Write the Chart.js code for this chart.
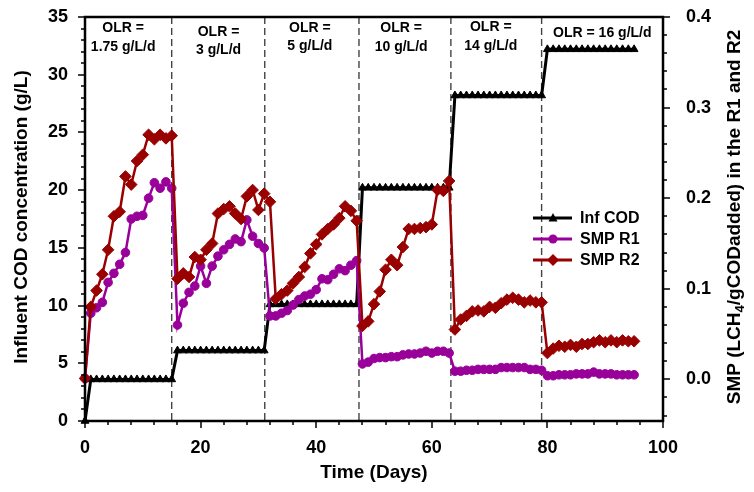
<!DOCTYPE html>
<html>
<head>
<meta charset="utf-8">
<title>Influent COD and SMP</title>
<script src="https://cdn.jsdelivr.net/npm/chart.js@4.4.1/dist/chart.umd.min.js"></script>
<style>
  html, body { margin: 0; padding: 0; background: #fff; }
  #wrap { width: 754px; height: 492px; }
</style>
</head>
<body>
<div id="wrap"><canvas id="chart" width="754" height="492"></canvas></div>
<script>
// sampling days (one sample a day)
const days = [
  0, 1, 2, 3, 4, 5, 6, 7, 8, 9, 10, 11, 12, 13, 14, 15,
  16, 17, 18, 19, 20, 21, 22, 23, 24, 25, 26, 27, 28, 29, 30, 31,
  32, 33, 34, 35, 36, 37, 38, 39, 40, 41, 42, 43, 44, 45, 46, 47,
  48, 49, 50, 51, 52, 53, 54, 55, 56, 57, 58, 59, 60, 61, 62, 63,
  64, 65, 66, 67, 68, 69, 70, 71, 72, 73, 74, 75, 76, 77, 78, 79,
  80, 81, 82, 83, 84, 85, 86, 87, 88, 89, 90, 91, 92, 93, 94, 95
]

// influent COD (g/L), left axis
const infCod = [
  0, 3.6, 3.6, 3.6, 3.6, 3.6, 3.6, 3.6, 3.6, 3.6, 3.6, 3.6, 3.6, 3.6, 3.6, 3.6,
  6.1, 6.1, 6.1, 6.1, 6.1, 6.1, 6.1, 6.1, 6.1, 6.1, 6.1, 6.1, 6.1, 6.1, 6.1, 6.1,
  10.1, 10.1, 10.1, 10.1, 10.1, 10.1, 10.1, 10.1, 10.1, 10.1, 10.1, 10.1, 10.1, 10.1, 10.1, 10.1,
  20.2, 20.2, 20.2, 20.2, 20.2, 20.2, 20.2, 20.2, 20.2, 20.2, 20.2, 20.2, 20.2, 20.2, 20.2, 20.2,
  28.2, 28.2, 28.2, 28.2, 28.2, 28.2, 28.2, 28.2, 28.2, 28.2, 28.2, 28.2, 28.2, 28.2, 28.2, 28.2,
  32.2, 32.2, 32.2, 32.2, 32.2, 32.2, 32.2, 32.2, 32.2, 32.2, 32.2, 32.2, 32.2, 32.2, 32.2, 32.2
]

// SMP (LCH4/gCODadded), right axis
const smpR1 = [
  0.001, 0.073, 0.079, 0.085, 0.107, 0.117, 0.127, 0.140, 0.177, 0.180, 0.181, 0.200, 0.217, 0.211, 0.218, 0.211,
  0.060, 0.084, 0.096, 0.103, 0.125, 0.106, 0.125, 0.136, 0.143, 0.149, 0.155, 0.152, 0.176, 0.158, 0.150, 0.145,
  0.070, 0.070, 0.073, 0.076, 0.082, 0.088, 0.092, 0.094, 0.099, 0.111, 0.110, 0.116, 0.122, 0.120, 0.126, 0.131,
  0.017, 0.019, 0.023, 0.024, 0.024, 0.025, 0.025, 0.027, 0.028, 0.028, 0.029, 0.031, 0.029, 0.031, 0.031, 0.029,
  0.009, 0.009, 0.010, 0.010, 0.011, 0.011, 0.011, 0.011, 0.013, 0.013, 0.013, 0.013, 0.013, 0.011, 0.011, 0.010,
  0.004, 0.004, 0.005, 0.005, 0.005, 0.006, 0.006, 0.006, 0.008, 0.006, 0.006, 0.006, 0.005, 0.005, 0.005, 0.005
]

const smpR2 = [
  0.001, 0.080, 0.098, 0.116, 0.143, 0.180, 0.185, 0.224, 0.215, 0.241, 0.248, 0.270, 0.265, 0.270, 0.266, 0.269,
  0.111, 0.117, 0.113, 0.135, 0.132, 0.143, 0.150, 0.183, 0.188, 0.191, 0.183, 0.177, 0.202, 0.209, 0.187, 0.205,
  0.196, 0.089, 0.094, 0.098, 0.106, 0.113, 0.124, 0.139, 0.149, 0.160, 0.166, 0.171, 0.178, 0.191, 0.186, 0.175,
  0.059, 0.064, 0.083, 0.097, 0.121, 0.132, 0.126, 0.146, 0.166, 0.166, 0.167, 0.168, 0.171, 0.209, 0.208, 0.219,
  0.055, 0.066, 0.070, 0.075, 0.076, 0.075, 0.080, 0.079, 0.084, 0.088, 0.090, 0.088, 0.085, 0.087, 0.085, 0.085,
  0.029, 0.034, 0.037, 0.036, 0.038, 0.036, 0.039, 0.039, 0.041, 0.043, 0.041, 0.043, 0.041, 0.043, 0.042, 0.042
]

// phase boundaries (days) and OLR captions
const olrBounds = [15, 31.1, 47.4, 63.3, 79]
const olrText = [
  ['OLR =', '1.75 g/L/d'],
  ['OLR =', '3 g/L/d'],
  ['OLR =', '5 g/L/d'],
  ['OLR =', '10 g/L/d'],
  ['OLR =', '14 g/L/d'],
  ['OLR = 16 g/L/d']
]
const rightTicks = [0, 0.1, 0.2, 0.3, 0.4]

// caption anchors: [day, left-axis value of first line, of second line]
const olrAt = [[6.6, 34.0, 32.4], [23.1, 33.7, 32.1], [38.9, 34.0, 32.5], [54.7, 34.0, 32.4], [70.2, 34.1, 32.5], [89.5, 33.6]]

const FONT = '"Liberation Sans", Arial, Helvetica, sans-serif'
const ink = '#000000'
const purple = '#990099'
const maroon = '#990000'

const pts = (vals) => days.map((d, i) => ({ x: d, y: vals[i] }))

function marker(ctx, style, x, y, r, color) {
  ctx.fillStyle = color
  ctx.beginPath()
  if (style === 'triangle') {
    ctx.moveTo(x, y - r * 1.1)
    ctx.lineTo(x + r, y + r * 0.75)
    ctx.lineTo(x - r, y + r * 0.75)
  } else if (style === 'rectRot') {
    ctx.moveTo(x, y - r)
    ctx.lineTo(x + r, y)
    ctx.lineTo(x, y + r)
    ctx.lineTo(x - r, y)
  } else {
    ctx.arc(x, y, r, 0, Math.PI * 2)
  }
  ctx.closePath()
  ctx.fill()
}

const decor = {
  id: 'decor',
  beforeDatasetsDraw(chart) {
    const { ctx, chartArea: a, scales } = chart
    ctx.save()
    ctx.strokeStyle = '#444'
    ctx.lineWidth = 1.4
    ctx.setLineDash([7, 4])
    olrBounds.forEach((d) => {
      const x = scales.x.getPixelForValue(d)
      ctx.beginPath()
      ctx.moveTo(x, a.top)
      ctx.lineTo(x, a.bottom)
      ctx.stroke()
    })
    ctx.restore()
  },
  afterDraw(chart) {
    const { ctx, chartArea: a, scales } = chart
    ctx.save()

    // frame
    ctx.strokeStyle = ink
    ctx.lineWidth = 2.5
    ctx.strokeRect(a.left, a.top, a.right - a.left, a.bottom - a.top)

    // tick marks
    ctx.lineWidth = 1.5
    ctx.beginPath()
    for (let v = 0; v <= 35; v++) {
      const y = Math.round(scales.y.getPixelForValue(v))
      const len = v % 5 === 0 ? 7 : 4
      ctx.moveTo(a.left, y)
      ctx.lineTo(a.left - len, y)
    }
    for (let k = -2; k <= 20; k++) {
      const y = Math.round(scales.y2.getPixelForValue(k * 0.02))
      const len = k % 5 === 0 ? 7 : 4
      ctx.moveTo(a.right, y)
      ctx.lineTo(a.right + len, y)
    }
    for (let k = 0; k <= 25; k++) {
      const x = Math.round(scales.x.getPixelForValue(k * 4))
      const len = k % 5 === 0 ? 7 : 4
      ctx.moveTo(x, a.bottom)
      ctx.lineTo(x, a.bottom + len)
    }
    ctx.stroke()

    // OLR captions
    ctx.fillStyle = ink
    ctx.textAlign = 'center'
    ctx.textBaseline = 'middle'
    ctx.font = `bold 14px ${FONT}`
    olrText.forEach((lines, i) => {
      const x = scales.x.getPixelForValue(olrAt[i][0])
      lines.forEach((t, j) => ctx.fillText(t, x, scales.y.getPixelForValue(olrAt[i][j + 1])))
    })

    // axis titles
    ctx.font = `bold 19px ${FONT}`
    ctx.fillText('Time (Days)', (a.left + a.right) / 2, 473)

    ctx.save()
    ctx.translate(22, 217)
    ctx.rotate(-Math.PI / 2)
    ctx.fillText('Influent COD concentration (g/L)', 0, 0)
    ctx.restore()

    ctx.save()
    ctx.translate(735, 217)
    ctx.rotate(-Math.PI / 2)
    const parts = [['SMP (LCH', 19, 0], ['4', 13, 5], ['/gCODadded) in the R1 and R2', 19, 0]]
    const widths = parts.map(([t, s]) => { ctx.font = `bold ${s}px ${FONT}`; return ctx.measureText(t).width })
    let x = -widths.reduce((p, w) => p + w, 0) / 2
    ctx.textAlign = 'left'
    parts.forEach(([t, s, dy], i) => {
      ctx.font = `bold ${s}px ${FONT}`
      ctx.fillText(t, x, dy)
      x += widths[i]
    })
    ctx.restore()

    // legend
    const rows = [['Inf COD', ink, 'triangle', 4.5], ['SMP R1', purple, 'circle', 4.5], ['SMP R2', maroon, 'rectRot', 6]]
    ctx.font = `bold 16px ${FONT}`
    ctx.textAlign = 'left'
    rows.forEach(([label, color, style, r], i) => {
      const y = 218 + i * 21
      ctx.strokeStyle = color
      ctx.lineWidth = 3
      ctx.beginPath()
      ctx.moveTo(533, y)
      ctx.lineTo(572, y)
      ctx.stroke()
      marker(ctx, style, 553, y, r, color)
      ctx.fillStyle = ink
      ctx.fillText(label, 580, y + 1)
    })

    ctx.restore()
  }
}

const tickFont = { family: FONT, size: 18, weight: 'bold' }

// keep the plot box fixed: no extra room for half-labels
const pinV = (w) => (s) => { s.width = w; s.paddingTop = 0; s.paddingBottom = 0 }

new Chart(document.getElementById('chart'), {
  type: 'line',
  data: {
    datasets: [
      {
        label: 'Inf COD', data: pts(infCod), yAxisID: 'y', order: 3,
        borderColor: ink, backgroundColor: ink, borderWidth: 3,
        pointStyle: 'triangle', pointRadius: 4.5, pointBorderWidth: 1, clip: false
      },
      {
        label: 'SMP R1', data: pts(smpR1), yAxisID: 'y2', order: 2,
        borderColor: purple, backgroundColor: purple, borderWidth: 2.5,
        pointStyle: 'circle', pointRadius: 4.3, pointBorderWidth: 1, clip: false
      },
      {
        label: 'SMP R2', data: pts(smpR2), yAxisID: 'y2', order: 1,
        borderColor: maroon, backgroundColor: maroon, borderWidth: 2.5,
        pointStyle: 'rectRot', pointRadius: 5.8, pointBorderWidth: 1, clip: false
      }
    ]
  },
  options: {
    responsive: false,
    animation: false,
    layout: { padding: { top: 17 } },
    plugins: { legend: { display: false }, tooltip: { enabled: false } },
    elements: { line: { tension: 0 } },
    scales: {
      x: {
        type: 'linear', min: 0, max: 100,
        ticks: { stepSize: 20, color: ink, font: tickFont, padding: 16, maxRotation: 0 },
        grid: { display: false, drawTicks: false },
        border: { display: false },
        afterFit: (s) => { s.height = 71; s.paddingLeft = 0; s.paddingRight = 0 }
      },
      y: {
        position: 'left', min: 0, max: 35,
        ticks: { stepSize: 5, color: ink, font: tickFont, padding: 17 },
        grid: { display: false, drawTicks: false },
        border: { display: false },
        afterFit: pinV(85)
      },
      y2: {
        position: 'right', min: -0.046, max: 0.4,
        afterBuildTicks: (s) => { s.ticks = rightTicks.map((v) => ({ value: v })) },
        ticks: { color: ink, font: tickFont, padding: 23, callback: (v) => Number(v).toFixed(1) },
        grid: { display: false, drawTicks: false },
        border: { display: false },
        afterFit: pinV(91)
      }
    }
  },
  plugins: [decor]
})
</script>
</body>
</html>
